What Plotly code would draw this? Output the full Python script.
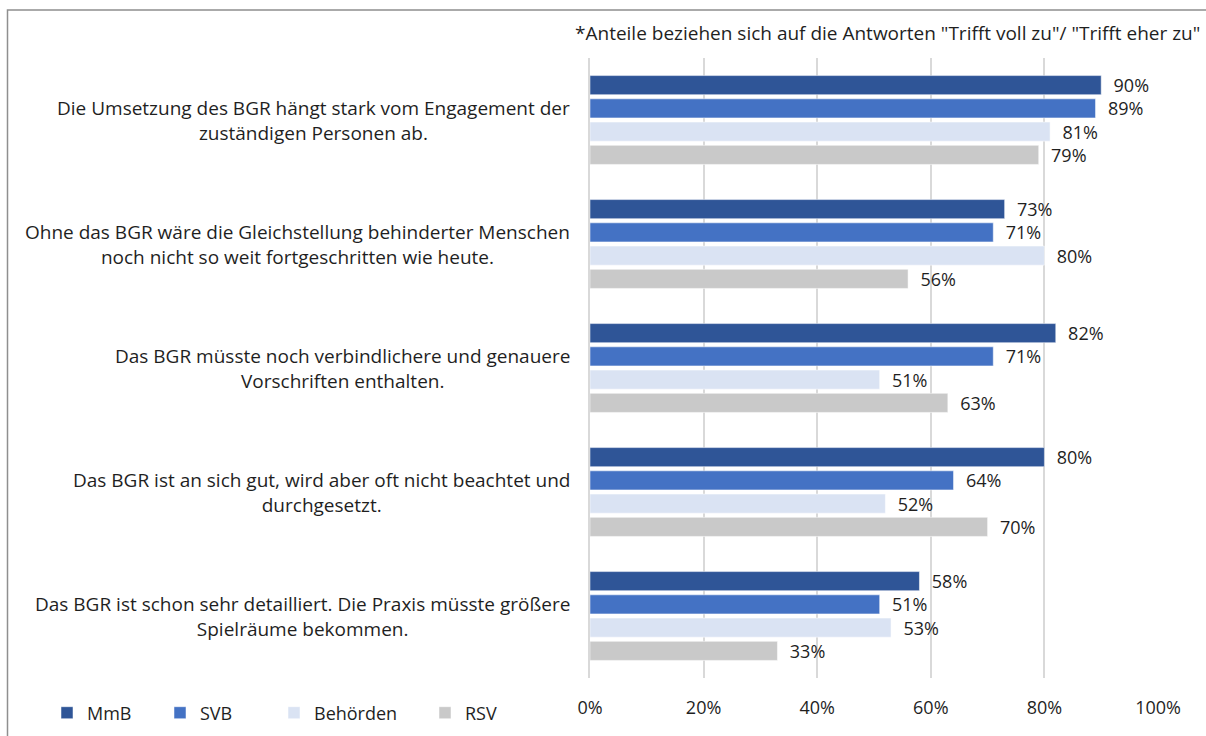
import plotly.graph_objects as go

# Aussagen (von oben nach unten)
statements = [
    "Die Umsetzung des BGR hängt stark vom Engagement der<br>zuständigen Personen ab.",
    "Ohne das BGR wäre die Gleichstellung behinderter Menschen<br>noch nicht so weit fortgeschritten wie heute.",
    "Das BGR müsste noch verbindlichere und genauere<br>Vorschriften enthalten.",
    "Das BGR ist an sich gut, wird aber oft nicht beachtet und<br>durchgesetzt.",
    "Das BGR ist schon sehr detailliert. Die Praxis müsste größere<br>Spielräume bekommen.",
]

groups = ["MmB", "SVB", "Behörden", "RSV"]
mmb = [90, 73, 82, 80, 58]
svb = [89, 71, 71, 64, 51]
behoerden = [81, 80, 51, 52, 53]
rsv = [79, 56, 63, 70, 33]
tick_vals = [0, 20, 40, 60, 80, 100]
tick_text = ["0%", "20%", "40%", "60%", "80%", "100%"]
note = '*Anteile beziehen sich auf die Antworten "Trifft voll zu"/ "Trifft eher zu"'

colors = ["#2F5597", "#4472C4", "#DAE3F3", "#C9C9C9"]
font_family = "'Open Sans', sans-serif"
text_color = "#1F1F1F"
fs_big = 19
fs = 18

W, H = 1206, 736
L, R, T, B = 590, 1206 - 1158, 58, 736 - 678


def px_x(p):
    return (p - L) / (W - L - R)


def px_y(p):
    return (H - B - p) / (H - T - B)


fig = go.Figure()

legend_x = [47, 160, 274, 425]
for i, (name, vals) in enumerate(zip(groups, [mmb, svb, behoerden, rsv])):
    leg = "legend" if i == 0 else f"legend{i + 1}"
    fig.add_trace(go.Bar(
        y=statements, x=vals, orientation="h", name=name,
        marker=dict(color=colors[i], line=dict(color="white", width=0.5)),
        text=[f"\u00a0\u00a0{v}%" for v in vals], textposition="outside",
        constraintext="none",
        textfont=dict(size=fs, color=text_color, family=font_family),
        cliponaxis=False, legend=leg,
    ))
    fig.update_layout({leg: dict(
        x=px_x(legend_x[i]), y=px_y(713), xanchor="left", yanchor="middle",
        orientation="h", itemwidth=30, bgcolor="rgba(0,0,0,0)",
        font=dict(size=fs, color=text_color, family=font_family),
    )})

for s in statements:
    fig.add_annotation(
        x=px_x(572), xref="paper", y=s, yref="y", text=s, showarrow=False,
        xanchor="right", yanchor="middle", align="center",
        font=dict(size=fs_big, color=text_color, family=font_family),
    )

fig.add_annotation(
    x=px_x(1202), xref="paper", y=px_y(33), yref="paper", text=note,
    showarrow=False, xanchor="right", yanchor="middle",
    font=dict(size=fs_big, color=text_color, family=font_family),
)

# Rahmen
fig.add_shape(
    type="rect", xref="paper", yref="paper",
    x0=px_x(7.5), x1=px_x(1300), y0=px_y(900), y1=px_y(10),
    line=dict(color="#8F8F8F", width=1.5), fillcolor="rgba(0,0,0,0)", layer="below",
)

fig.update_layout(
    width=W, height=H,
    margin=dict(l=L, r=R, t=T, b=B, autoexpand=False),
    barmode="group", bargap=0.25, bargroupgap=0.18,
    plot_bgcolor="white", paper_bgcolor="white",
    font=dict(family=font_family, size=fs, color=text_color),
    showlegend=True,
    xaxis=dict(
        range=[0, 100], tickvals=tick_vals, ticktext=tick_text,
        showgrid=True, gridcolor="#D9D9D9", gridwidth=1.5,
        zeroline=False, showline=False,
        ticks="outside", ticklen=13, tickcolor="rgba(0,0,0,0)",
        tickfont=dict(size=fs, color=text_color, family=font_family),
    ),
    yaxis=dict(
        autorange="reversed", showticklabels=False,
        showline=True, linecolor="#D9D9D9", linewidth=1.5,
        showgrid=False,
    ),
)

fig.write_html(
    "out.html",
    config={"displayModeBar": False},
    post_script="document.body.style.margin='0';document.body.style.overflow='hidden';",
)
